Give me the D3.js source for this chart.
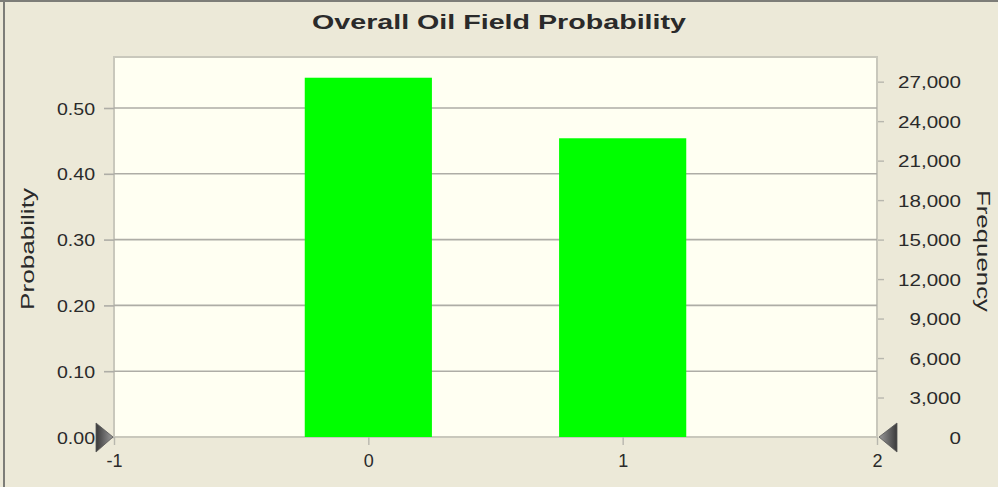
<!DOCTYPE html>
<html><head><meta charset="utf-8">
<script src="https://cdn.jsdelivr.net/npm/d3@7"></script>
<style>
html,body{margin:0;padding:0;background:#ECE9D8;}
svg{display:block;}
text{font-family:"Liberation Sans",Arial,sans-serif;fill:#2a2a2a;}
</style></head>
<body>
<svg id="chart" width="998" height="487"></svg>
<script>
// ---- data ----
const title = "Overall Oil Field Probability";
const categories = [0, 1];
const probabilities = [0.546, 0.454];
const xTicks = [-1, 0, 1, 2];
const probTicks = [0, 0.10, 0.20, 0.30, 0.40, 0.50];
const freqTicks = [0, 3000, 6000, 9000, 12000, 15000, 18000, 21000, 24000, 27000];
const totalTrials = 50000;
const yLabel = "Probability";
const y2Label = "Frequency";

// ---- layout ----
const W = 998, H = 487;
const m = {left: 114, right: 877, top: 57, bottom: 437};
const yMax = 0.5775;
const svg = d3.select("#chart");

const x = d3.scaleLinear().domain([-1, 2]).range([m.left, m.right]);
const y = d3.scaleLinear().domain([0, yMax]).range([m.bottom, m.top]);
const yF = d3.scaleLinear().domain([0, yMax * totalTrials]).range([m.bottom, m.top]);

// outer frame
svg.append("rect").attr("x",0).attr("y",0).attr("width",W).attr("height",H).attr("fill","#ECE9D8");
svg.append("line").attr("x1",4).attr("x2",4).attr("y1",0).attr("y2",H).attr("stroke","#7d7d78").attr("stroke-width",2);
svg.append("line").attr("x1",0).attr("x2",W).attr("y1",1).attr("y2",1).attr("stroke","#7d7d78").attr("stroke-width",2);

// defs
const defs = svg.append("defs");
const gl = defs.append("linearGradient").attr("id","triL").attr("x1","0").attr("x2","1").attr("y1","0").attr("y2","0");
gl.append("stop").attr("offset","0").attr("stop-color","#3a3a3a");
gl.append("stop").attr("offset","1").attr("stop-color","#9a9a9a");
const gr = defs.append("linearGradient").attr("id","triR").attr("x1","1").attr("x2","0").attr("y1","0").attr("y2","0");
gr.append("stop").attr("offset","0").attr("stop-color","#3a3a3a");
gr.append("stop").attr("offset","1").attr("stop-color","#9a9a9a");
defs.append("filter").attr("id","soft").append("feGaussianBlur").attr("stdDeviation",0.6);

// plot area
svg.append("rect").attr("x",m.left).attr("y",m.top)
  .attr("width",m.right-m.left).attr("height",m.bottom-m.top)
  .attr("fill","#FFFFF2").attr("stroke","#c9c8bc").attr("stroke-width",2);

// gridlines
svg.append("g").selectAll("line").data(probTicks.filter(d=>d>0)).join("line")
  .attr("x1",m.left).attr("x2",m.right)
  .attr("y1",d=>y(d)).attr("y2",d=>y(d))
  .attr("stroke","#aeada6").attr("stroke-width",1.6);

// bars
svg.append("g").attr("filter","url(#soft)").selectAll("rect").data(categories).join("rect")
  .attr("x",(d)=>x(d-0.25))
  .attr("width",(d)=>x(d+0.25)-x(d-0.25))
  .attr("y",(d,i)=>y(probabilities[i]))
  .attr("height",(d,i)=>y(0)-y(probabilities[i]))
  .attr("fill","#00FF00");

// left axis
const fmtP = d3.format(".2f");
const gL = svg.append("g").attr("transform",`translate(${m.left},0)`)
  .call(d3.axisLeft(y).tickValues(probTicks).tickFormat(fmtP).tickSize(10).tickPadding(9));
gL.select(".domain").remove();
gL.selectAll(".tick line").attr("stroke","#aeada6").attr("stroke-width",1.6);
gL.selectAll(".tick text").attr("fill","#2a2a2a").style("font-size","17px").attr("dy","0.36em")
  .each(function(){ const l=this.getComputedTextLength(); d3.select(this).attr("textLength",l*1.15).attr("lengthAdjust","spacingAndGlyphs"); });

// right axis
const fmtF = d3.format(",");
const gR = svg.append("g").attr("transform",`translate(${m.right},0)`)
  .call(d3.axisRight(yF).tickValues(freqTicks).tickFormat(fmtF).tickSize(7));
gR.select(".domain").remove();
gR.selectAll(".tick line").attr("stroke","#b8b7ae").attr("stroke-width",1.4)
  .attr("x1",1);
gR.selectAll(".tick line").filter(d=>d===0).remove();
const rTexts = gR.selectAll(".tick text").attr("fill","#2a2a2a").style("font-size","17px")
  .attr("text-anchor","end").attr("x",961-m.right).attr("dy","0.36em");
let refLen = 0;
rTexts.each(function(d){ if(d===27000) refLen = this.getComputedTextLength(); });
const rScale = refLen ? 63/refLen : 1;
rTexts.each(function(){ const l=this.getComputedTextLength(); d3.select(this).attr("textLength",l*rScale).attr("lengthAdjust","spacingAndGlyphs"); });

// bottom axis
const gB = svg.append("g").attr("transform",`translate(0,${m.bottom})`)
  .call(d3.axisBottom(x).tickValues(xTicks).tickFormat(d=>String(d)).tickSize(8).tickPadding(17));
gB.select(".domain").remove();
gB.selectAll(".tick line").attr("stroke","#b8b7ae").attr("stroke-width",1.4);
gB.selectAll(".tick text").attr("fill","#2a2a2a").style("font-size","18px").attr("dy","0.3em");

// triangles (range sliders)
const tx0 = x(-1), tx1 = x(2), ty = y(0);
svg.append("path")
  .attr("d",`M${tx0-18},${ty-14}L${tx0-1},${ty}L${tx0-18},${ty+15}Z`)
  .attr("fill","url(#triL)").attr("stroke","#555").attr("stroke-width",0.8);
svg.append("path")
  .attr("d",`M${tx1+20},${ty-14}L${tx1+2},${ty}L${tx1+20},${ty+15}Z`)
  .attr("fill","url(#triR)").attr("stroke","#555").attr("stroke-width",0.8);

// title
svg.append("text").attr("x",499).attr("y",29).attr("text-anchor","middle")
  .style("font-size","21px").style("font-weight","bold").attr("fill","#1a1a1a")
  .attr("textLength",374).attr("lengthAdjust","spacingAndGlyphs")
  .text(title);

// axis titles
svg.append("text").attr("transform","translate(34,249) rotate(-90)")
  .attr("text-anchor","middle").style("font-size","19px").attr("fill","#2a2a2a")
  .attr("textLength",122).attr("lengthAdjust","spacingAndGlyphs")
  .text(yLabel);
svg.append("text").attr("transform","translate(977,251) rotate(90)")
  .attr("text-anchor","middle").style("font-size","18px").attr("fill","#2a2a2a")
  .attr("textLength",122).attr("lengthAdjust","spacingAndGlyphs")
  .text(y2Label);
</script>
</body></html>
